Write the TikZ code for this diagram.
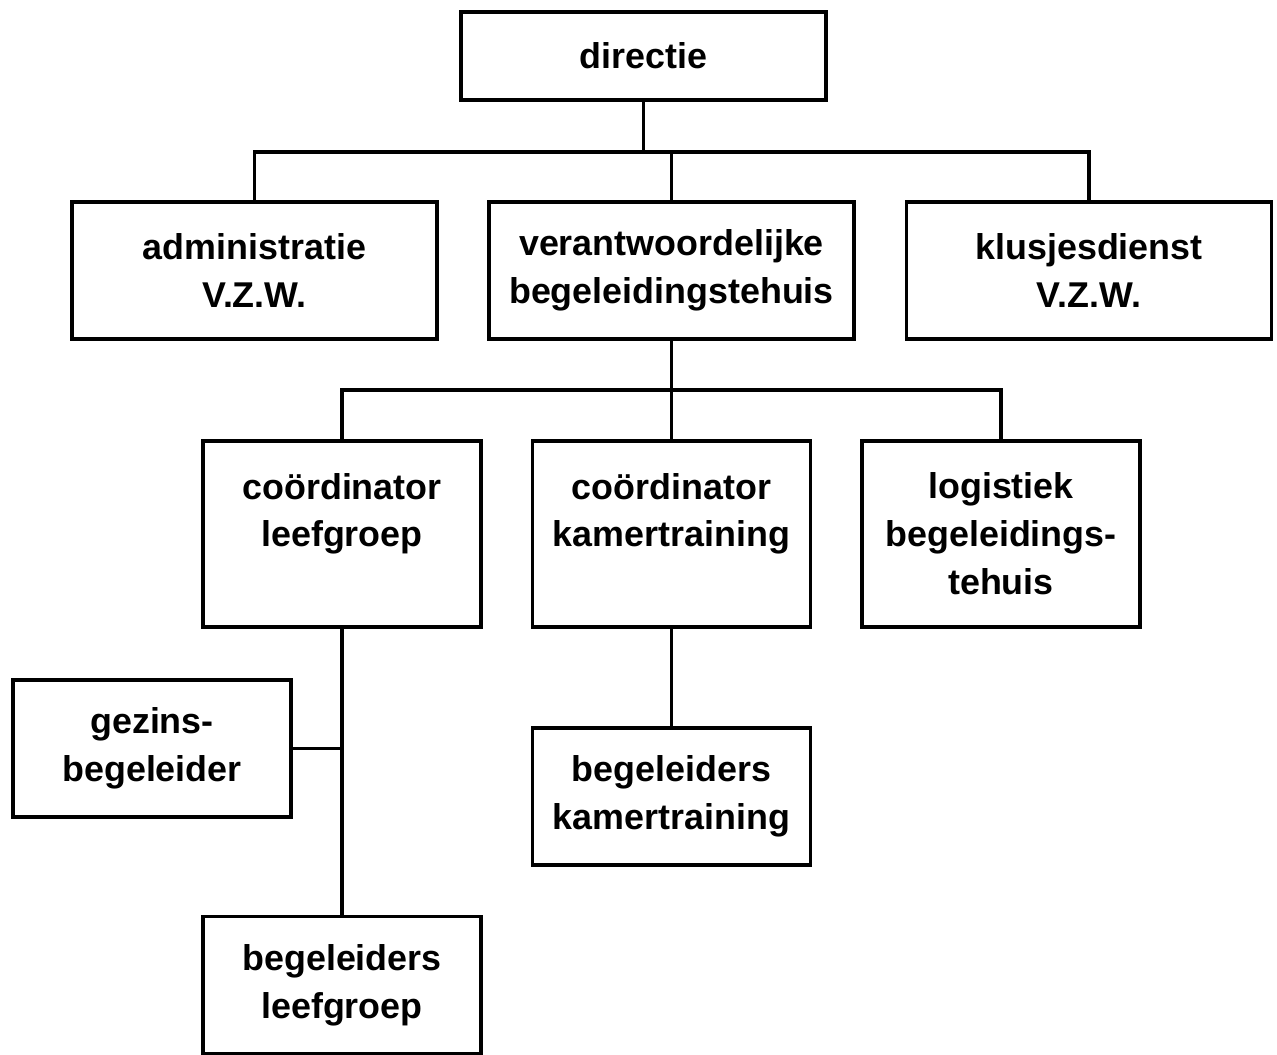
\documentclass[tikz,border=0pt]{standalone}
\usepackage{fontspec}
\setmainfont{Liberation Sans}
\tikzset{
  box/.style={draw, line width=2pt, align=center, inner sep=0pt,
    font=\fontsize{20.4}{27.3}\selectfont\bfseries},
  widebox/.style={box, minimum width=7.3cm, minimum height=2.74cm},
  smallbox/.style={box, minimum width=5.56cm, minimum height=2.74cm},
  tallbox/.style={box, minimum width=5.56cm, minimum height=3.72cm},
  link/.style={line width=2pt}
}
\begin{document}
\begin{tikzpicture}
  \useasboundingbox (0,0) rectangle (25.54,-21.1);
  % top level
  \node[widebox, minimum height=1.76cm] (dir) at (12.87,-1.12) {directie};
  \node[widebox] (adm) at (5.09,-5.41) {administratie\\V.Z.W.};
  \node[widebox] (ver) at (13.43,-5.41) {verantwoordelijke\\begeleidingstehuis};
  \node[widebox] (klus) at (21.78,-5.41) {klusjesdienst\\V.Z.W.};
  % coordinators
  \node[tallbox] (colg) at (6.84,-10.68) {coördinator\\leefgroep\\~};
  \node[tallbox] (cokt) at (13.43,-10.68) {coördinator\\kamertraining\\~};
  \node[tallbox] (logi) at (20.02,-10.68) {logistiek\\begeleidings-\\tehuis};
  % bottom
  \node[smallbox] (gez) at (3.04,-14.97) {gezins-\\begeleider};
  \node[smallbox] (bekt) at (13.43,-15.93) {begeleiders\\kamertraining};
  \node[smallbox] (belg) at (6.84,-19.70) {begeleiders\\leefgroep};
  \coordinate (bus1) at (0,-3.04);
  \coordinate (bus2) at (0,-7.8);
  \draw[link] (adm.north) -- (adm.north |- bus1) -| (klus.north);
  \draw[link] (dir.south) -- (dir.south |- bus1);
  \draw[link] (ver.north) -- (ver.north |- bus1);
  \draw[link] (colg.north) -- (colg.north |- bus2) -| (logi.north);
  \draw[link] (ver.south) -- (cokt.north);
  \draw[link] (colg.south) -- (belg.north);
  \draw[link] (gez.east) -- (gez.east -| colg.south);
  \draw[link] (cokt.south) -- (bekt.north);
\end{tikzpicture}
\end{document}
